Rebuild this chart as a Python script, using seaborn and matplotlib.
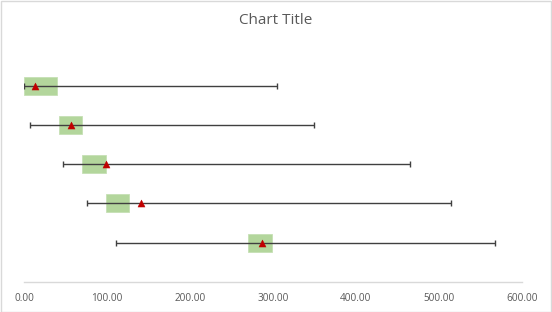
import matplotlib
matplotlib.use("Agg")
import matplotlib.pyplot as plt
import seaborn as sns
import pandas as pd
import numpy as np

# data (top row first)
rows = ["A", "B", "C", "D", "E"]
whisker_low = [0.5, 7.6, 46.6, 76.3, 111.2]
whisker_high = [304.5, 349.0, 465.0, 514.5, 567.5]
box_start = [0.4, 42.2, 69.9, 98.8, 269.5]
box_end = [39.8, 69.5, 98.4, 126.1, 298.4]
marker_val = [12.9, 56.6, 98.4, 141.3, 286.7]
x_ticks = [0, 100, 200, 300, 400, 500, 600]
x_tick_labels = ["0.00", "100.00", "200.00", "300.00", "400.00", "500.00", "600.00"]

sns.set_style("white")
plt.rcParams["font.family"] = ["Open Sans", "DejaVu Sans"]

df = pd.DataFrame({
    "row": rows,
    "low": whisker_low,
    "high": whisker_high,
    "b0": box_start,
    "b1": box_end,
    "m": marker_val,
})
df["y"] = np.arange(len(rows))[::-1] + 1.0  # top row highest

fig = plt.figure(figsize=(5.52, 3.12), dpi=100)
ax = fig.add_axes([24 / 552, (312 - 281.7) / 312, 498 / 552, (281.7 - 47) / 312])

# boxes
ax.barh(df["y"], df["b1"] - df["b0"], left=df["b0"], height=0.46,
        color="#b3d69c", edgecolor="#c6e0b4", linewidth=0.6, zorder=2)

# whiskers
mid = (df["low"] + df["high"]) / 2
ax.errorbar(mid, df["y"], xerr=[mid - df["low"], df["high"] - mid], fmt="none",
            ecolor="#404040", elinewidth=1.0, capsize=2.4, capthick=1.0, zorder=3)

# markers
sns.scatterplot(data=df, x="m", y="y", marker="^", color="#c00000", s=26,
                edgecolor="#c00000", linewidth=0.3, ax=ax, zorder=4, legend=False)

ax.set_xlim(0, 600)
ax.set_ylim(0, 6)
ax.set_xticks(x_ticks)
ax.set_xticklabels(x_tick_labels, fontsize=7.2, color="#595959")
ax.set_yticks([])
ax.set_xlabel("")
ax.set_ylabel("")
ax.tick_params(axis="x", length=0, pad=8)
for s in ["top", "right", "left"]:
    ax.spines[s].set_visible(False)
ax.spines["bottom"].set_color("#d9d9d9")
ax.spines["bottom"].set_linewidth(1.0)

fig.text(0.5, 1 - 21 / 312, "Chart Title", ha="center", va="center",
         fontsize=11, color="#595959")

# outer border
fig.patches.append(plt.Rectangle((0.5 / 552, 0.5 / 312), 1 - 1.5 / 552, 1 - 1.5 / 312,
                                 transform=fig.transFigure, fill=False,
                                 edgecolor="#d9d9d9", linewidth=1.0))

fig.savefig("out.png", dpi=100, facecolor="white")
